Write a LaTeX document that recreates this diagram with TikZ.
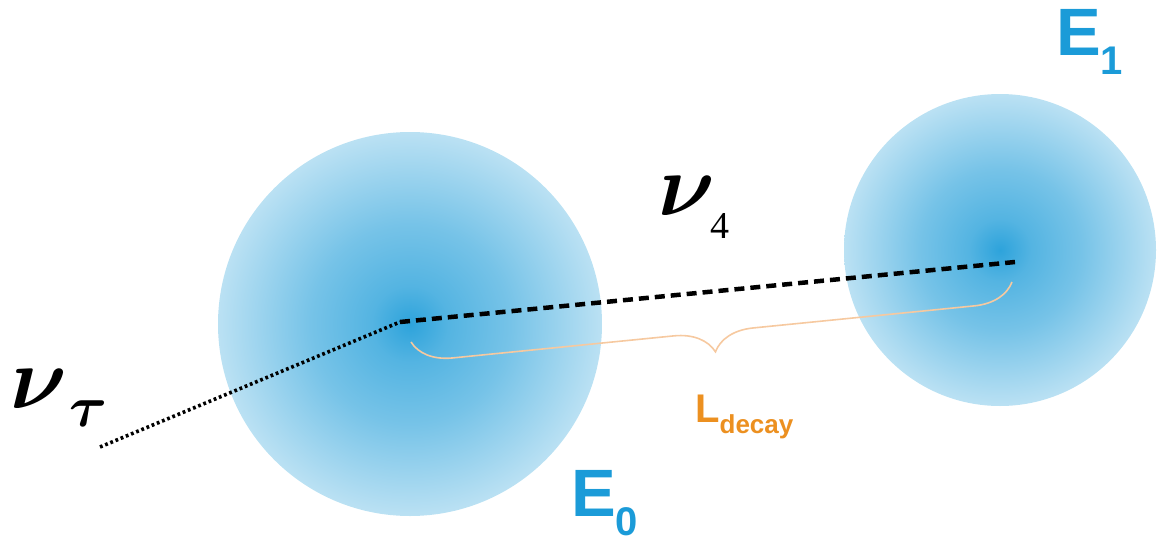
\RequirePackage{fix-cm}
\documentclass[tikz,border=0pt]{standalone}
\usepackage{amsmath,amssymb}
\usepackage{fontspec}
\usepackage{tikz}
\usetikzlibrary{positioning,decorations.pathreplacing}
\newfontfamily\lblfont{Liberation Sans}
\newfontfamily\numfont{Liberation Serif}
\definecolor{eblue}{RGB}{27,155,216}
\definecolor{lorange}{RGB}{236,144,32}
\definecolor{bracecol}{RGB}{246,201,160}
\pgfdeclareradialshading{blob}{\pgfpoint{0bp}{0bp}}{%
  color(0bp)=(eblue!92!white); color(5bp)=(eblue!75!white);
  color(13bp)=(eblue!60!white); color(25bp)=(eblue!30!white);
  color(50bp)=(eblue!30!white)}
\newcommand{\elabel}[2]{{\lblfont\bfseries\fontsize{67}{67}\selectfont #1}\raisebox{-19pt}{\lblfont\bfseries\fontsize{40}{40}\selectfont #2}}
\newcommand{\bignu}{{\fontsize{88}{88}\selectfont$\boldsymbol{\nu}$}}

\begin{document}
\begin{tikzpicture}[x=1pt, y=-1pt,
  ball/.style={circle, inner sep=0pt, shading=blob},
  elbl/.style={text=eblue, inner sep=0pt, anchor=base west}]
  \useasboundingbox (0,0) rectangle (1163,544);
  \node[ball, minimum size=384pt] (ball0) at (410,324) {};
  \node[ball, minimum size=312pt] (ball1) at (1000,250) {};
  \coordinate (src) at (100,447);
  \coordinate (vtx) at (400,322);
  \coordinate (dec) at (1015,262);
  \draw[line width=3.6pt, dash pattern=on 2.8pt off 2.8pt] (src) -- (vtx);
  \draw[line width=4.5pt, dash pattern=on 10pt off 6pt] (vtx) -- (dec);
  % brace under the decay length
  \coordinate (bl) at (411,342);
  \coordinate (br) at (1012,282);
  \draw[bracecol, line width=1.6pt, decorate, decoration={brace, mirror, amplitude=40pt}] (bl) -- (br);
  \node[text=lorange, inner sep=0pt, anchor=base west] (ldecay) at (695,422)
    {{\lblfont\bfseries\fontsize{40}{40}\selectfont L}\raisebox{-11pt}{\lblfont\bfseries\fontsize{26}{26}\selectfont decay}};
  \node[elbl] (e0) at (571,516) {\elabel{E}{0}};
  \node[elbl] (e1) at (1056,55) {\elabel{E}{1}};
  \node[inner sep=0pt, anchor=base west] (nutau) at (10,408)
    {\bignu\hspace{2pt}\raisebox{-18pt}{\fontsize{58}{58}\selectfont$\boldsymbol{\tau}$}};
  \node[inner sep=0pt, anchor=base west] (nu4) at (658,215)
    {\bignu\hspace{-5pt}\raisebox{-23pt}{\numfont\fontsize{38}{38}\selectfont 4}};
\end{tikzpicture}
\end{document}
